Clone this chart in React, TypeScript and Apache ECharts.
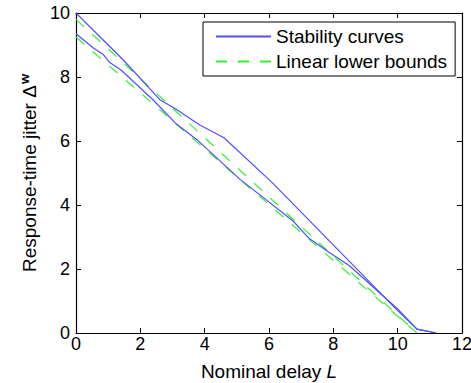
import React, { useEffect, useRef } from "react";
import * as echarts from "echarts";

const upperCurveX = [0, 1.5, 2.6, 3.1, 3.85, 4.6, 6.1, 10.0, 10.6, 11.2];
const upperCurveY = [10, 8.5, 7.3, 7.0, 6.5, 6.1, 4.7, 0.7, 0.12, 0];
const lowerCurveX = [0, 0.55, 0.85, 1.05, 1.4, 2.4, 3.1, 3.75, 5.1, 6.75, 7.25, 7.9, 8.5, 10.0, 10.6, 11.2];
const lowerCurveY = [9.35, 8.9, 8.7, 8.45, 8.22, 7.28, 6.55, 6.05, 4.8, 3.5, 2.95, 2.5, 2.1, 0.75, 0.12, 0];
const upperBoundX = [0, 10.6];
const upperBoundY = [9.8, 0];
const lowerBoundX = [0, 10.6];
const lowerBoundY = [9.25, 0];

const FONT = "Liberation Sans, Arial, sans-serif";
const BLUE = "#4f4fff";
const GREEN = "#33f033";

const zip = (xs: number[], ys: number[]) => xs.map((x, i) => [x, ys[i]]);

export default function App() {
  const ref = useRef<HTMLDivElement>(null);
  useEffect(() => {
    const chart = echarts.init(ref.current!, null, { renderer: "svg" });
    const axisCommon = {
      axisLine: { show: true, onZero: false, lineStyle: { color: "#000", width: 1.2 } },
      axisTick: { show: true, inside: true, length: 5, lineStyle: { color: "#000" } },
      splitLine: { show: false },
    };
    const blueLine = { color: BLUE, width: 1.2, type: "solid" as const };
    const greenLine = { color: GREEN, width: 1.2, type: [11, 11] as any };
    chart.setOption({
      animation: false,
      backgroundColor: "#fff",
      grid: { left: 76, right: 9, top: 13, bottom: 50, containLabel: false, outerBoundsMode: "none" },
      legend: {
        orient: "vertical",
        left: 203,
        top: 22,
        padding: [4, 8, 4, 12],
        itemGap: 4,
        itemWidth: 55,
        itemHeight: 14,
        borderColor: "#000",
        borderWidth: 1,
        backgroundColor: "#fff",
        itemStyle: { opacity: 0 },
        textStyle: { fontFamily: FONT, fontSize: 19, lineHeight: 21, color: "#000", padding: [0, 0, 0, 0] },
        data: ["Stability curves", "Linear lower bounds"],
      },
      xAxis: [
        {
          type: "value",
          min: 0,
          max: 12,
          interval: 2,
          position: "bottom",
          ...axisCommon,
          axisLabel: { fontFamily: FONT, fontSize: 18, color: "#000", margin: 2 },
          name: "Nominal delay {i|L}",
          nameLocation: "middle",
          nameGap: 29,
          nameTextStyle: {
            fontFamily: FONT,
            fontSize: 19,
            color: "#000",
            rich: { i: { fontFamily: FONT, fontSize: 19, fontStyle: "italic", color: "#000" } },
          },
        },
        {
          type: "value",
          min: 0,
          max: 12,
          interval: 2,
          position: "top",
          ...axisCommon,
          axisLabel: { show: false },
        },
      ],
      yAxis: [
        {
          type: "value",
          min: 0,
          max: 10,
          interval: 2,
          position: "left",
          ...axisCommon,
          axisLabel: { fontFamily: FONT, fontSize: 18, color: "#000", margin: 6 },
          name: "Response-time jitter Δ{s|w}",
          nameLocation: "middle",
          nameGap: 35,
          nameTextStyle: {
            fontFamily: FONT,
            fontSize: 19,
            color: "#000",
            rich: {
              s: { fontFamily: FONT, fontSize: 13, fontWeight: "bold", color: "#000", verticalAlign: "top", padding: [0, 0, 10, 1] },
            },
          },
        },
        {
          type: "value",
          min: 0,
          max: 10,
          interval: 2,
          position: "right",
          ...axisCommon,
          axisLabel: { show: false },
        },
      ],
      series: [
        {
          name: "Stability curves",
          type: "line",
          data: zip(upperCurveX, upperCurveY),
          symbol: "none",
          lineStyle: blueLine,
          itemStyle: { color: BLUE },
          z: 3,
        },
        {
          name: "Stability curves",
          type: "line",
          data: zip(lowerCurveX, lowerCurveY),
          symbol: "none",
          lineStyle: blueLine,
          itemStyle: { color: BLUE },
          z: 3,
        },
        {
          name: "Linear lower bounds",
          type: "line",
          data: zip(upperBoundX, upperBoundY),
          symbol: "none",
          lineStyle: greenLine,
          itemStyle: { color: GREEN },
          z: 2,
        },
        {
          name: "Linear lower bounds",
          type: "line",
          data: zip(lowerBoundX, lowerBoundY),
          symbol: "none",
          lineStyle: greenLine,
          itemStyle: { color: GREEN },
          z: 2,
        },
      ],
    });
    return () => chart.dispose();
  }, []);
  return <div ref={ref} style={{ width: 471, height: 383, position: "fixed", left: 0, top: 0 }} />;
}
